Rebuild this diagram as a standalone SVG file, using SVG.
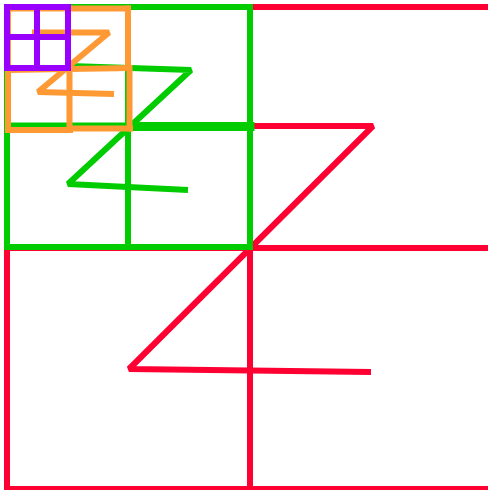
<svg xmlns="http://www.w3.org/2000/svg" width="488" height="490" viewBox="0 0 488 490">
<style>
.l{fill:none;stroke-width:6;stroke-linecap:square;stroke-linejoin:miter}
.z{fill:none;stroke-width:6;stroke-linecap:butt;stroke-linejoin:bevel}
.r{stroke:#ff0033}.g{stroke:#00cc00}.o{stroke:#ff9933}.p{stroke:#9900ff}
</style>
<rect width="488" height="490" fill="#ffffff"/>
<g id="level-red">
<rect class="l r" x="7" y="7" width="484" height="482"/>
<line class="l r" x1="7" y1="248" x2="491" y2="248"/>
<line class="l r" x1="250" y1="7" x2="250" y2="489"/>
<polyline class="z r" points="250,126 373,126 129,369 371,372"/>
</g>
<g id="level-green">
<rect class="l g" x="7" y="7" width="243" height="240"/>
<line class="l g" x1="7" y1="125.5" x2="128" y2="125.5"/>
<line class="l g" x1="130" y1="126.5" x2="250" y2="126.5" style="stroke-width:9"/>
<line class="l g" x1="128" y1="7" x2="128" y2="247"/>
<polyline class="z g" points="70,66 191,70 68,184 188,190"/>
</g>
<g id="level-orange">
<line class="l o" x1="8" y1="8.5" x2="128" y2="8.5"/>
<line class="l o" x1="8" y1="8.5" x2="8" y2="130"/>
<line class="l o" x1="8" y1="130" x2="70" y2="130"/>
<line class="l o" x1="70" y1="128.5" x2="130" y2="128.5"/>
<line class="l o" x1="128" y1="8.5" x2="128" y2="68"/>
<line class="l o" x1="129.5" y1="68" x2="129.5" y2="128.5"/>
<line class="l o" x1="8" y1="70" x2="129" y2="68"/>
<line class="l o" x1="69.5" y1="68" x2="69.5" y2="130"/>
<polyline class="z o" points="32,32.5 109,32.5 38,92 114,94"/>
</g>
<g id="level-purple">
<rect class="l p" x="7" y="7" width="61" height="61"/>
<line class="l p" x1="7" y1="37" x2="68" y2="37"/>
<line class="l p" x1="37" y1="7" x2="37" y2="68"/>
</g>
<g id="connectors"></g>
</svg>
